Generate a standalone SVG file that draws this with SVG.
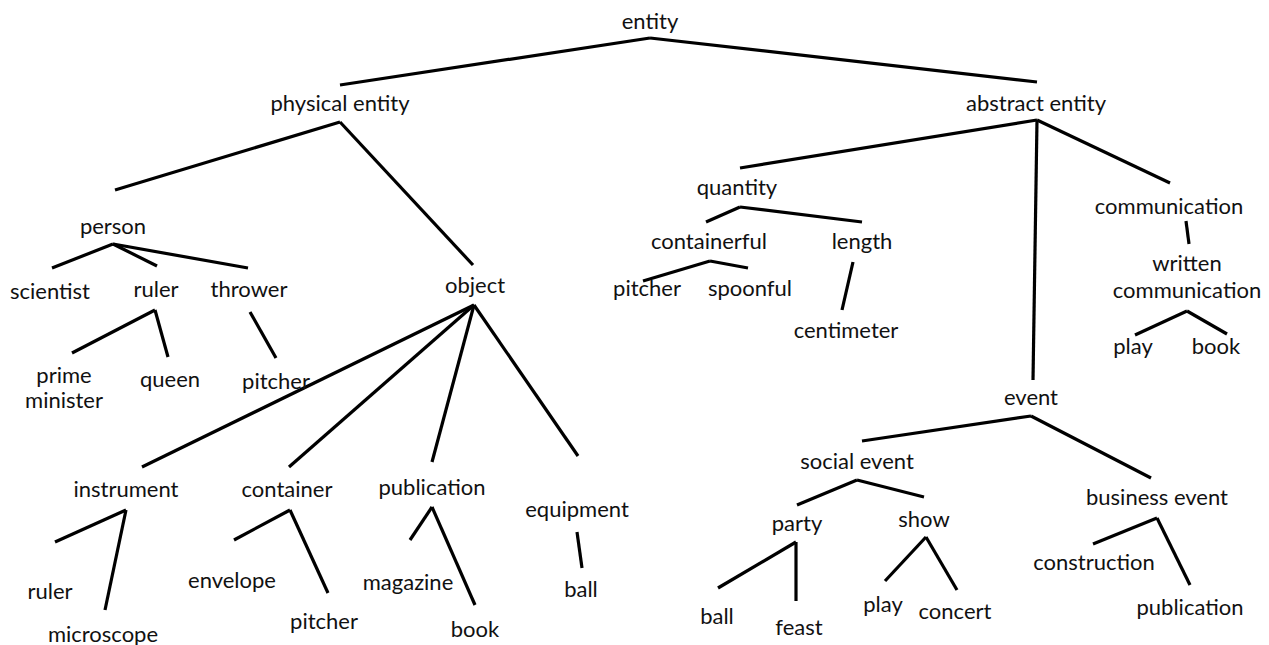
<svg xmlns="http://www.w3.org/2000/svg" width="1269" height="645" viewBox="0 0 1269 645">
<style>
text{font-family:Lato,"Open Sans","Liberation Sans",sans-serif;font-size:22px;fill:#111;text-anchor:middle}
.c line{stroke:#000;stroke-width:3.2;stroke-linecap:butt}
</style>
<rect width="1269" height="645" fill="#fff"/>
<g class="c" id="connectors">
<line x1="340" y1="85" x2="650" y2="38"/>
<line x1="650" y1="38" x2="1037" y2="82"/>
<line x1="115" y1="190" x2="340" y2="122"/>
<line x1="340" y1="122" x2="473" y2="265"/>
<line x1="52" y1="268" x2="113" y2="244"/>
<line x1="113" y1="244" x2="157" y2="266"/>
<line x1="113" y1="244" x2="248" y2="268"/>
<line x1="72" y1="353" x2="155" y2="310"/>
<line x1="155" y1="310" x2="168" y2="357"/>
<line x1="250" y1="312" x2="276" y2="358"/>
<line x1="474" y1="305" x2="142" y2="467"/>
<line x1="474" y1="305" x2="289" y2="467"/>
<line x1="474" y1="305" x2="432" y2="462"/>
<line x1="474" y1="305" x2="578" y2="456"/>
<line x1="126" y1="510" x2="55" y2="542"/>
<line x1="126" y1="510" x2="105" y2="610"/>
<line x1="290" y1="510" x2="234" y2="540"/>
<line x1="290" y1="510" x2="328" y2="593"/>
<line x1="432" y1="507" x2="410" y2="540"/>
<line x1="432" y1="507" x2="475" y2="605"/>
<line x1="577" y1="532" x2="582" y2="568"/>
<line x1="1037" y1="120" x2="740" y2="168"/>
<line x1="1037" y1="120" x2="1033" y2="380"/>
<line x1="1037" y1="120" x2="1170" y2="183"/>
<line x1="740" y1="207" x2="706" y2="222"/>
<line x1="740" y1="207" x2="862" y2="222"/>
<line x1="710" y1="261" x2="643" y2="281"/>
<line x1="710" y1="261" x2="748" y2="268"/>
<line x1="853" y1="262" x2="842" y2="310"/>
<line x1="1186" y1="221" x2="1189" y2="244"/>
<line x1="1187" y1="311" x2="1135" y2="335"/>
<line x1="1187" y1="311" x2="1227" y2="334"/>
<line x1="1031" y1="416" x2="862" y2="441"/>
<line x1="1031" y1="416" x2="1151" y2="478"/>
<line x1="857" y1="480" x2="797" y2="505"/>
<line x1="857" y1="480" x2="924" y2="497"/>
<line x1="796" y1="542" x2="718" y2="588"/>
<line x1="796" y1="542" x2="796" y2="601"/>
<line x1="926" y1="537" x2="885" y2="581"/>
<line x1="926" y1="537" x2="957" y2="590"/>
<line x1="1157" y1="518" x2="1093" y2="544"/>
<line x1="1157" y1="518" x2="1190" y2="585"/>
</g>
<g id="n-entity"><text x="650" y="29">entity</text></g>
<g id="n-physical"><text x="340" y="111">physical entity</text></g>
<g id="n-abstract"><text x="1036" y="111">abstract entity</text></g>
<g id="n-person"><text x="113" y="234">person</text></g>
<g id="n-scientist"><text x="50" y="299">scientist</text></g>
<g id="n-ruler1"><text x="156" y="297">ruler</text></g>
<g id="n-thrower"><text x="249" y="297">thrower</text></g>
<g id="n-object"><text x="475" y="293">object</text></g>
<g id="n-prime"><text x="64" y="383">prime</text><text x="64" y="408">minister</text></g>
<g id="n-queen"><text x="170" y="387">queen</text></g>
<g id="n-pitcher1"><text x="276" y="389">pitcher</text></g>
<g id="n-quantity"><text x="737" y="195">quantity</text></g>
<g id="n-containerful"><text x="709" y="249">containerful</text></g>
<g id="n-length"><text x="862" y="249">length</text></g>
<g id="n-pitcher2"><text x="647" y="296">pitcher</text></g>
<g id="n-spoonful"><text x="750" y="296">spoonful</text></g>
<g id="n-centimeter"><text x="846" y="338">centimeter</text></g>
<g id="n-communication"><text x="1169" y="214">communication</text></g>
<g id="n-written"><text x="1187" y="271">written</text><text x="1187" y="298">communication</text></g>
<g id="n-play1"><text x="1133" y="354">play</text></g>
<g id="n-book1"><text x="1216" y="354">book</text></g>
<g id="n-event"><text x="1031" y="405">event</text></g>
<g id="n-social"><text x="857" y="469">social event</text></g>
<g id="n-business"><text x="1157" y="505">business event</text></g>
<g id="n-party"><text x="797" y="531">party</text></g>
<g id="n-show"><text x="924" y="527">show</text></g>
<g id="n-ball1"><text x="717" y="624">ball</text></g>
<g id="n-feast"><text x="799" y="635">feast</text></g>
<g id="n-play2"><text x="883" y="612">play</text></g>
<g id="n-concert"><text x="955" y="619">concert</text></g>
<g id="n-construction"><text x="1094" y="570">construction</text></g>
<g id="n-publication2"><text x="1190" y="615">publication</text></g>
<g id="n-instrument"><text x="126" y="497">instrument</text></g>
<g id="n-container"><text x="287" y="497">container</text></g>
<g id="n-publication1"><text x="432" y="495">publication</text></g>
<g id="n-equipment"><text x="577" y="517">equipment</text></g>
<g id="n-ruler2"><text x="50" y="599">ruler</text></g>
<g id="n-microscope"><text x="103" y="642">microscope</text></g>
<g id="n-envelope"><text x="232" y="588">envelope</text></g>
<g id="n-pitcher3"><text x="324" y="629">pitcher</text></g>
<g id="n-magazine"><text x="408" y="590">magazine</text></g>
<g id="n-book2"><text x="475" y="637">book</text></g>
<g id="n-ball2"><text x="581" y="597">ball</text></g>
</svg>
